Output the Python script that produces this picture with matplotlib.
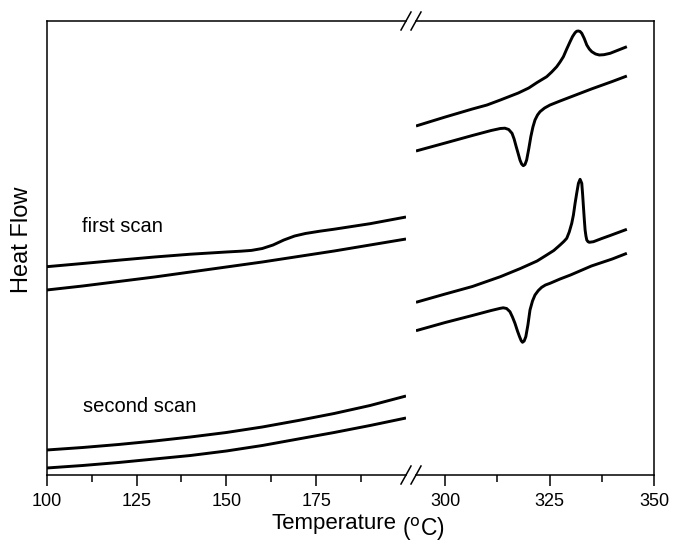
import matplotlib
matplotlib.use("Agg")
import matplotlib.pyplot as plt
from matplotlib.lines import Line2D

plt.rcParams['font.family'] = ['Liberation Sans', 'DejaVu Sans']

# ---- data (arbitrary heat-flow units) ----
# left panel, first scan
t_l1_up = [100, 110, 120, 130, 140, 150, 154, 157, 160, 163, 166, 169, 172, 176, 180, 190, 200]
h_l1_up = [208.3, 211.5, 214.8, 218, 220.8, 223, 223.8, 224.6, 226.5, 230, 235, 239, 241.5,
           243.8, 245.8, 251.3, 258]
t_l1_lo = [100, 110, 120, 130, 140, 150, 160, 170, 180, 190, 200]
h_l1_lo = [185, 189, 193.5, 198, 203, 208, 213, 218.5, 224, 230, 236]
# left panel, second scan
t_l2_up = [100, 110, 120, 130, 140, 150, 160, 170, 180, 190, 200]
h_l2_up = [25, 27.5, 30.5, 34, 38, 42.5, 48, 54.5, 61.5, 69.5, 79]
t_l2_lo = [100, 110, 120, 130, 140, 150, 160, 170, 180, 190, 200]
h_l2_lo = [7, 9.5, 12.5, 16, 19.5, 24, 29.5, 36, 42.5, 49.5, 57]

# right panel, first scan
t_r1_up = [293, 300, 306.5, 310, 313.2, 317.5, 320, 322, 324.3, 325.5, 326.7, 327.5, 328.3,
           329.1, 329.9, 330.5, 331.1, 331.5, 331.9, 332.3, 332.7, 333.3, 333.9, 334.5,
           335.1, 336, 336.9, 338, 339.5, 341.5, 343.5]
h_r1_up = [349, 358, 366, 370, 375, 382, 387, 392.5, 398.3, 403, 408.3, 413, 418.3,
           426, 433.3, 438.5, 442.3, 443.8, 444, 443.5, 441.7, 436.5, 430, 426,
           423.3, 421, 420, 420.3, 421.7, 425, 428.3]
t_r1_lo = [293, 300, 306.5, 311, 313.2, 314.3, 315.2, 316, 316.5, 317, 317.5, 317.9, 318.3,
           318.7, 319.1, 319.5, 320, 320.5, 321, 321.5, 322.1, 322.7, 323.8, 325.1, 327.5,
           330, 335, 340, 343.5]
h_r1_lo = [324, 332, 339.5, 344.5, 346.5, 346.8, 345.5, 341.7, 336, 328.3, 321, 315, 311,
           309.3, 310.5, 315, 326, 338.3, 348, 355, 360, 363.3, 367, 370, 374,
           378, 386, 393.5, 399]
# right panel, second scan
t_r2_up = [293, 300, 306.5, 313.2, 318, 322, 324.3, 326, 327.5, 328.4, 329.1, 329.7, 330.3,
           330.7, 331.1, 331.5, 331.9, 332.3, 332.7, 332.9, 333.1, 333.3, 333.5, 333.7,
           333.9, 334.2, 334.5, 335.5, 337.5, 339.5, 341.5, 343.5]
h_r2_up = [172.7, 181, 188.5, 198.3, 206.5, 214, 220, 224.5, 230, 233.5, 236.7, 243, 251.7,
           260, 271.7, 282, 291.7, 295.7, 291.7, 281, 268.3, 256, 245, 239,
           235, 233.3, 232.7, 233.3, 236.5, 239.5, 242.6, 245.7]
t_r2_lo = [293, 300, 306.5, 311, 313.2, 313.9, 314.7, 315.5, 316.1, 316.7, 317.3, 317.8,
           318.2, 318.5, 318.9, 319.3, 319.8, 320.3, 320.9, 321.5, 322.3, 323.1, 324,
           325.1, 327.5, 330, 335, 340, 343.5]
h_r2_lo = [144.3, 152.5, 159.5, 164.5, 166.7, 167.2, 166.5, 163.3, 158, 151.7, 144, 138.3,
           134.3, 132.7, 134, 138.3, 150, 165, 174, 180, 184.5, 187.7, 190,
           191.7, 196, 200, 209, 216, 221.7]

left_major = [100, 125, 150, 175]
left_minor = [112.5, 137.5, 162.5, 187.5]
right_major = [300, 325, 350]
right_minor = [312.5, 337.5]

W, H = 674, 545
fig = plt.figure(figsize=(W / 100, H / 100), dpi=100)

def fx(px):
    return px / W

def fy(py):
    return 1 - py / H

top, bot = 21, 475
axL = fig.add_axes([fx(46.7), fy(bot), fx(406) - fx(46.7), fy(top) - fy(bot)])
axR = fig.add_axes([fx(416), fy(bot), fx(654) - fx(416), fy(top) - fy(bot)])

lw = 2.1
for t, h in [(t_l1_up, h_l1_up), (t_l1_lo, h_l1_lo), (t_l2_up, h_l2_up), (t_l2_lo, h_l2_lo)]:
    axL.plot(t, h, color='black', lw=lw, solid_capstyle='butt', solid_joinstyle='round')
for t, h in [(t_r1_up, h_r1_up), (t_r1_lo, h_r1_lo), (t_r2_up, h_r2_up), (t_r2_lo, h_r2_lo)]:
    axR.plot(t, h, color='black', lw=lw, solid_capstyle='butt', solid_joinstyle='round')

for ax in (axL, axR):
    ax.set_ylim(0, 454)
    ax.set_yticks([])
    for s in ax.spines.values():
        s.set_linewidth(1.1)
    ax.tick_params(axis='x', which='major', direction='out', length=8, width=1.1,
                   labelsize=13, pad=5, top=False)
    ax.tick_params(axis='x', which='minor', direction='out', length=5, width=1.1, top=False)

axL.set_xlim(100, 200)
axL.set_xticks(left_major)
axL.set_xticks(left_minor, minor=True)
axL.spines['right'].set_visible(False)

axR.set_xlim(293, 350)
axR.set_xticks(right_major)
axR.set_xticks(right_minor, minor=True)
axR.spines['left'].set_visible(False)

axL.text(109.8, 248.3, 'first scan', fontsize=14.5, va='center', ha='left')
axL.text(110.1, 69, 'second scan', fontsize=14.5, va='center', ha='left')

# break marks
for py in (top, bot):
    for cx in (406, 416):
        fig.add_artist(Line2D([fx(cx - 5), fx(cx + 5)], [fy(py + 9), fy(py - 9)],
                              transform=fig.transFigure, color='black', lw=1.1))

fig.text(fx(334), fy(529), 'Temperature', fontsize=16, ha='center', va='baseline')
fig.text(fx(402), fy(536), r'($^{\mathrm{o}}$C)', fontsize=16.5, ha='left', va='baseline')
fig.text(fx(22), fy(240), 'Heat Flow', fontsize=17, rotation=90, ha='center', va='center')

fig.savefig('out.png', dpi=100)
